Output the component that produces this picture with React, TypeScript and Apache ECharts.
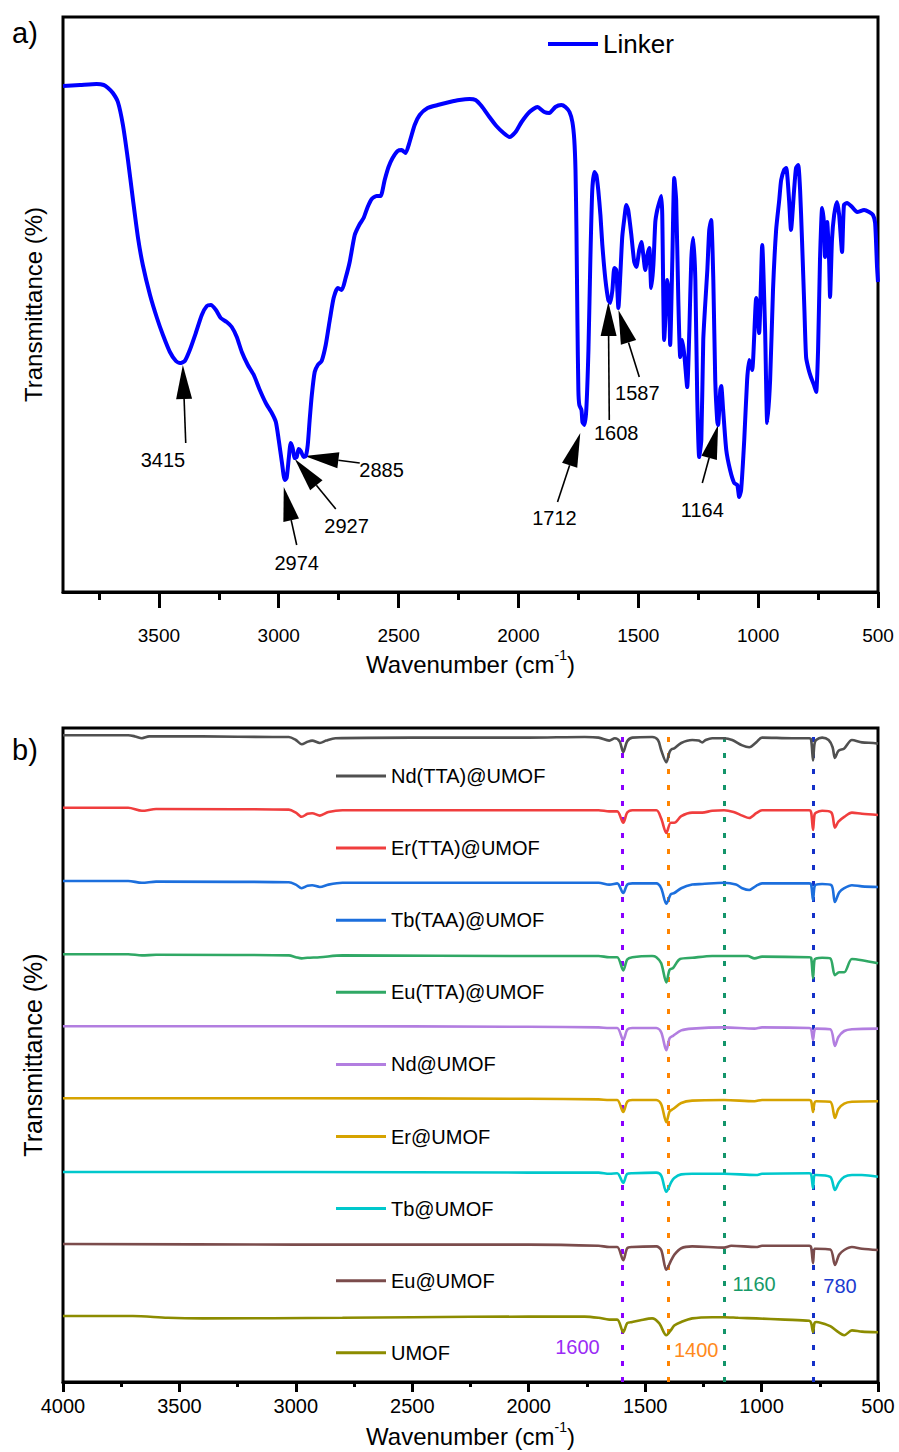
import React, { useEffect, useRef } from "react";
import * as echarts from "echarts";

const FONT = '"Liberation Sans", Arial, Helvetica, sans-serif';

// ---------- Panel a: Linker spectrum [wavenumber, transmittance (a.u.)]
const linkerSpectrum: [number, number][] = [
  [3900,101.2],[3829,101.4],[3760,101.6],[3730,101.4],[3712,100.8],[3692,99.8],[3671,98.0],[3650,93.4],[3629,86.4],[3608,78.4],[3587,70.8],[3567,65.4],[3537,59.4],[3508,54.8],[3483,51.4],[3454,48.0],[3429,46.2],[3412,45.8],[3392,46.2],[3371,48.4],[3346,51.8],[3321,55.4],[3300,57.2],[3283,57.4],[3262,56.4],[3242,54.8],[3217,54.0],[3196,53.0],[3175,51.0],[3154,48.0],[3129,45.4],[3104,43.4],[3079,40.4],[3054,37.8],[3029,35.8],[3012,34.0],[3000,30.4],[2987,26.0],[2975,22.4],[2967,22.8],[2958,26.8],[2950,29.8],[2942,28.8],[2933,26.8],[2925,27.0],[2917,28.6],[2908,28.2],[2896,27.0],[2887,27.2],[2879,29.4],[2871,34.4],[2862,39.4],[2850,44.0],[2837,45.4],[2821,46.2],[2804,49.4],[2787,54.4],[2771,58.8],[2754,60.8],[2737,60.4],[2721,62.8],[2704,66.0],[2683,71.4],[2662,73.6],[2646,74.8],[2629,77.0],[2612,78.6],[2592,79.2],[2575,79.2],[2558,82.4],[2542,85.0],[2525,86.8],[2504,88.2],[2487,88.4],[2471,87.8],[2454,90.0],[2433,93.4],[2412,95.4],[2379,96.8],[2337,97.4],[2287,98.0],[2246,98.4],[2204,98.6],[2179,98.4],[2154,97.2],[2121,95.0],[2092,93.2],[2062,91.8],[2037,91.0],[2012,92.0],[1987,94.0],[1954,96.0],[1921,97.0],[1892,96.0],[1871,95.8],[1846,97.0],[1821,97.4],[1804,97.0],[1787,96.0],[1775,94.0],[1767,90.4],[1762,84.4],[1758,72.4],[1754,54.4],[1750,40.4],[1746,37.4],[1737,36.4],[1733,34.0],[1725,33.4],[1717,36.4],[1708,48.4],[1700,66.4],[1692,80.4],[1683,84.0],[1675,83.4],[1667,80.4],[1658,75.4],[1650,69.4],[1637,62.4],[1625,58.4],[1617,57.8],[1608,60.4],[1600,64.8],[1592,64.4],[1583,56.8],[1575,63.4],[1567,71.0],[1558,74.8],[1550,77.4],[1542,76.4],[1529,71.4],[1517,66.0],[1508,65.0],[1496,68.4],[1487,70.0],[1479,67.4],[1471,64.4],[1462,67.4],[1454,68.8],[1446,60.8],[1437,65.4],[1429,74.0],[1421,76.4],[1412,78.0],[1404,79.2],[1400,75.4],[1392,50.4],[1383,58.4],[1379,62.4],[1371,58.4],[1367,49.4],[1358,66.4],[1350,82.8],[1342,78.4],[1333,58.4],[1325,47.0],[1317,50.4],[1308,47.4],[1296,41.0],[1287,52.4],[1279,66.4],[1271,70.8],[1262,62.4],[1254,38.4],[1246,27.0],[1237,30.4],[1229,50.4],[1221,57.4],[1212,64.4],[1204,72.4],[1196,74.4],[1187,62.4],[1179,42.4],[1171,34.4],[1167,33.4],[1158,40.4],[1154,41.2],[1146,36.4],[1133,28.4],[1117,24.4],[1100,21.8],[1087,21.4],[1079,19.0],[1071,20.4],[1058,30.4],[1046,42.4],[1037,46.4],[1025,44.4],[1008,58.8],[996,51.8],[983,69.4],[971,52.4],[962,33.8],[950,42.4],[938,60.4],[925,72.4],[912,78.4],[904,82.4],[892,84.4],[883,84.8],[871,78.4],[863,72.4],[850,80.4],[842,84.8],[833,85.4],[825,80.4],[817,70.4],[807,56.4],[800,47.0],[790,44.6],[780,43.0],[767,41.4],[758,40.0],[750,48.4],[742,66.4],[733,76.8],[725,73.4],[721,67.0],[712,74.0],[704,66.4],[700,59.0],[692,70.4],[683,75.4],[671,78.0],[662,75.4],[650,68.0],[642,77.4],[629,77.8],[608,77.0],[587,76.0],[558,76.4],[537,76.0],[521,75.4],[512,73.8],[504,65.0],[500,62.0]
];

const peakLabels = ["3415", "2974", "2927", "2885", "1712", "1608", "1587", "1164"];
const peakArrowTips: [number, number][] = [[3400,45.4],[2979,21.0],[2933,26.6],[2892,27.2],[1742,31.8],[1625,58.0],[1583,56.4],[1167,33.4]];
const peakArrowTails: [number, number][] = [[3388,29.8],[2925,9.4],[2762,16.6],[2662,25.8],[1837,18.0],[1621,34.4],[1496,43.0],[1233,21.8]];
const peakLabelPos: [number, number][] = [[3483,26.4],[2925,5.8],[2717,13.2],[2571,24.4],[1850,14.8],[1592,31.8],[1504,39.8],[1233,16.4]];

const topMajorTicks = [3500, 3000, 2500, 2000, 1500, 1000, 500];
const topMinorTicks = [3750, 3250, 2750, 2250, 1750, 1250, 750];
const bottomMajorTicks = [4000, 3500, 3000, 2500, 2000, 1500, 1000, 500];
const bottomMinorTicks = [3750, 3250, 2750, 2250, 1750, 1250, 750];

// ---------- Panel b: stacked spectra (relative to offset)
const sampleNames = ["Nd(TTA)@UMOF","Er(TTA)@UMOF","Tb(TAA)@UMOF","Eu(TTA)@UMOF","Nd@UMOF","Er@UMOF","Tb@UMOF","Eu@UMOF","UMOF"];
const sampleColors = ["#505050","#F03E3E","#1C6FDD","#30A865","#B27EE0","#D6A300","#00C8CC","#7B4C4C","#8C8C00"];
const sampleOffsets = [107.8, 95.7, 83.5, 71.3, 59.3, 47.3, 35.0, 23.0, 11.0];

const ndTTA: [number, number][] = [[4000,0],[3800,0],[3720,0],[3690,-0.2],[3661,-0.5],[3630,-0.2],[3400,-0.2],[3100,-0.3],[3030,-0.3],[3000,-0.8],[2975,-1.5],[2950,-1.1],[2930,-0.9],[2897,-1.3],[2870,-0.9],[2830,-0.5],[2500,-0.4],[2000,-0.4],[1760,-0.3],[1700,-0.4],[1654,-0.9],[1630,-0.5],[1610,-1.0],[1594,-2.8],[1577,-1.0],[1555,-0.4],[1470,-0.3],[1445,-0.8],[1431,-2.5],[1409,-4.5],[1395,-2.8],[1385,-2.3],[1375,-2.2],[1345,-1.3],[1298,-0.8],[1270,-0.9],[1255,-1.2],[1240,-0.8],[1212,-0.5],[1161,-0.5],[1126,-0.8],[1083,-1.7],[1053,-2.0],[1023,-1.2],[998,-0.4],[869,-0.5],[795,-0.5],[787,-0.8],[779,-4.2],[773,-1.5],[766,-0.8],[740,-0.4],[712,-0.8],[695,-2.0],[685,-3.8],[670,-2.6],[645,-2.2],[612,-0.8],[569,-1.2],[520,-1.3],[500,-1.4]];
const erTTA: [number, number][] = [[4000,0],[3720,0],[3661,-0.5],[3600,-0.2],[3030,-0.3],[3000,-0.8],[2975,-1.5],[2950,-1.0],[2930,-0.9],[2897,-1.3],[2860,-0.7],[2800,-0.4],[2000,-0.4],[1700,-0.4],[1654,-0.6],[1620,-0.6],[1594,-2.5],[1577,-0.8],[1555,-0.4],[1452,-0.4],[1431,-1.8],[1409,-4.2],[1390,-2.5],[1375,-2.5],[1345,-1.4],[1298,-0.8],[1255,-0.8],[1212,-0.5],[1161,-0.4],[1120,-0.7],[1083,-1.3],[1053,-1.7],[1023,-0.9],[998,-0.4],[795,-0.4],[787,-0.8],[779,-3.7],[773,-1.2],[766,-0.8],[740,-0.5],[700,-0.8],[685,-3.3],[670,-2.3],[645,-1.5],[612,-0.8],[569,-1.0],[500,-1.2]];
const tbTAA: [number, number][] = [[4000,0],[3720,0],[3661,-0.3],[3600,-0.1],[3030,-0.2],[3000,-0.6],[2975,-1.2],[2950,-0.8],[2930,-0.7],[2897,-1.0],[2860,-0.6],[2800,-0.3],[2000,-0.3],[1700,-0.3],[1654,-0.6],[1620,-0.4],[1594,-2.0],[1577,-0.6],[1555,-0.4],[1452,-0.4],[1431,-1.2],[1409,-3.8],[1390,-2.2],[1375,-2.0],[1345,-1.2],[1298,-0.6],[1255,-0.5],[1161,-0.3],[1110,-0.6],[1083,-1.2],[1053,-1.5],[1023,-0.8],[998,-0.4],[795,-0.4],[787,-0.6],[779,-3.2],[773,-1.0],[766,-0.6],[740,-0.5],[700,-0.7],[685,-3.5],[667,-1.9],[645,-1.2],[612,-0.7],[569,-0.9],[500,-1.0]];
const euTTA: [number, number][] = [[4000,0],[3720,0],[3661,-0.2],[3600,-0.1],[3030,-0.2],[3000,-0.5],[2975,-0.7],[2950,-0.6],[2897,-0.5],[2800,-0.2],[2000,-0.3],[1700,-0.3],[1654,-0.5],[1620,-0.5],[1594,-2.7],[1577,-0.9],[1555,-0.5],[1470,-0.3],[1452,-0.5],[1431,-1.5],[1409,-4.7],[1395,-2.6],[1380,-2.3],[1350,-0.8],[1298,-0.6],[1212,-0.3],[1161,-0.3],[1060,-0.3],[1030,-0.7],[998,-0.4],[795,-0.5],[787,-0.6],[779,-4.0],[773,-1.0],[766,-0.7],[740,-0.6],[705,-0.7],[685,-3.5],[667,-3.0],[645,-3.0],[612,-0.8],[569,-1.0],[500,-1.5]];
const ndUMOF: [number, number][] = [[4000,0],[3000,0],[2000,-0.1],[1700,-0.2],[1654,-0.3],[1620,-0.3],[1594,-2.3],[1577,-0.6],[1555,-0.3],[1452,-0.3],[1431,-1.0],[1409,-4.0],[1395,-2.0],[1380,-1.6],[1345,-0.7],[1298,-0.4],[1161,-0.2],[1030,-0.4],[998,-0.2],[795,-0.3],[787,-0.5],[779,-2.3],[773,-0.7],[766,-0.4],[705,-0.5],[685,-3.3],[670,-1.8],[645,-0.8],[612,-0.5],[500,-0.4]];
const erUMOF: [number, number][] = [[4000,0],[3000,0],[2000,-0.1],[1700,-0.2],[1654,-0.3],[1620,-0.3],[1594,-2.3],[1577,-0.6],[1555,-0.3],[1452,-0.3],[1431,-1.0],[1409,-4.0],[1395,-2.2],[1380,-1.8],[1345,-0.8],[1298,-0.4],[1161,-0.3],[1030,-0.5],[998,-0.3],[795,-0.3],[787,-0.5],[779,-2.3],[773,-0.8],[766,-0.5],[705,-0.6],[685,-3.3],[670,-1.8],[645,-0.9],[612,-0.6],[500,-0.5]];
const tbUMOF: [number, number][] = [[4000,0],[3000,0],[2000,-0.1],[1700,-0.1],[1654,-0.3],[1620,-0.2],[1594,-1.8],[1577,-0.3],[1555,-0.2],[1452,-0.1],[1431,-0.6],[1409,-3.3],[1388,-1.7],[1375,-1.0],[1345,-0.4],[1298,-0.3],[1161,-0.3],[1023,-0.5],[998,-0.3],[795,-0.2],[787,-0.4],[779,-2.7],[773,-0.5],[766,-0.5],[705,-0.8],[685,-3.0],[667,-1.7],[645,-0.8],[612,-0.5],[569,-0.5],[500,-0.8]];
const euUMOF: [number, number][] = [[4000,0],[3000,-0.1],[2000,-0.1],[1700,-0.3],[1654,-0.5],[1620,-0.5],[1594,-2.7],[1577,-0.7],[1555,-0.5],[1452,-0.4],[1431,-1.0],[1409,-4.3],[1388,-2.7],[1375,-1.8],[1345,-0.7],[1298,-0.4],[1161,-0.6],[1130,-0.3],[1023,-0.5],[998,-0.3],[795,-0.3],[787,-0.6],[779,-3.2],[773,-0.8],[766,-0.8],[705,-0.9],[685,-3.5],[667,-1.8],[645,-1.0],[612,-0.5],[569,-0.8],[500,-1.0]];
const umof: [number, number][] = [[4000,0],[3700,0],[3550,-0.3],[3400,-0.4],[2800,-0.3],[2500,-0.2],[2000,-0.1],[1760,-0.1],[1700,-0.3],[1654,-0.6],[1620,-0.6],[1594,-2.7],[1577,-1.2],[1555,-1.0],[1520,-0.7],[1470,-0.4],[1440,-1.2],[1409,-3.2],[1390,-2.4],[1375,-1.6],[1345,-1.0],[1298,-0.4],[1212,-0.2],[1161,-0.2],[1100,-0.3],[1023,-0.4],[900,-0.6],[795,-0.8],[787,-1.2],[779,-2.7],[773,-1.2],[766,-1.0],[740,-1.2],[705,-1.7],[670,-2.7],[645,-3.2],[612,-2.4],[569,-2.6],[500,-2.7]];
const sampleSpectra = [ndTTA, erTTA, tbTAA, euTTA, ndUMOF, erUMOF, tbUMOF, euUMOF, umof];

const markerWavenumbers = [1600, 1400, 1160, 780];
const markerLabels = ["1600", "1400", "1160", "780"];
const markerLineColors = ["#8A00FF", "#FF8400", "#13956A", "#1430C8"];
const markerTextColors = ["#9A2CF5", "#FF8A1C", "#179A68", "#1C3CD0"];
const markerLabelPos: [number, number][] = [[1791, 5.8], [1281, 5.3], [1032, 16.3], [663, 16.0]];

const wavenumberName = "{n|Wavenumber (cm}{sup|-1}{n|)}";
const nameRich = {
  n: { fontSize: 24, fontFamily: FONT, color: "#000", lineHeight: 28, verticalAlign: "bottom" },
  sup: { fontSize: 14, fontFamily: FONT, color: "#000", lineHeight: 14, verticalAlign: "top" },
};

function tickAxis(gridIndex: number, max: number, values: number[], len: number, withLabels: boolean, extra: any = {}) {
  return {
    gridIndex,
    type: "value",
    inverse: true,
    min: 500,
    max,
    position: "bottom",
    axisLine: withLabels ? { show: true, onZero: false, lineStyle: { color: "#000", width: 3 } } : { show: false, onZero: false },
    axisTick: { show: true, length: len, customValues: values, lineStyle: { color: "#000", width: 3 } },
    axisLabel: withLabels
      ? { show: true, customValues: values, formatter: (v: number) => String(v), color: "#000", fontFamily: FONT, fontSize: 20, ...(extra.label || {}) }
      : { show: false },
    splitLine: { show: false },
    ...(extra.axis || {}),
  };
}

export default function App() {
  const ref = useRef<HTMLDivElement>(null);

  useEffect(() => {
    document.body.style.margin = "0";
    if (!ref.current) return;
    const chart = echarts.init(ref.current, null, { renderer: "svg" });

    const option: any = {
      animation: false,
      backgroundColor: "#fff",
      grid: [
        { left: 63, right: 21, top: 17, height: 575, show: true, borderColor: "#000", borderWidth: 3 },
        { left: 63, right: 21, top: 728, height: 654, show: true, borderColor: "#000", borderWidth: 3 },
      ],
      xAxis: [
        tickAxis(0, 3900, topMajorTicks, 16, true, {
          label: { margin: 34, fontSize: 19 },
          axis: { name: wavenumberName, nameLocation: "middle", nameGap: 56, nameTextStyle: { rich: nameRich } },
        }),
        tickAxis(0, 3900, topMinorTicks, 8, false),
        tickAxis(1, 4000, bottomMajorTicks, 10, true, {
          label: { margin: 14, fontSize: 20 },
          axis: { name: wavenumberName, nameLocation: "middle", nameGap: 38, nameTextStyle: { rich: nameRich } },
        }),
        tickAxis(1, 4000, bottomMinorTicks, 5, false),
      ],
      yAxis: [
        {
          gridIndex: 0, type: "value", min: 0, max: 115,
          axisLine: { show: false }, axisTick: { show: false }, axisLabel: { show: false }, splitLine: { show: false },
          name: "Transmittance (%)", nameLocation: "middle", nameGap: 18, nameRotate: 90,
          nameTextStyle: { fontSize: 24, fontFamily: FONT, color: "#000" },
        },
        {
          gridIndex: 1, type: "value", min: 0, max: 109,
          axisLine: { show: false }, axisTick: { show: false }, axisLabel: { show: false }, splitLine: { show: false },
          name: "Transmittance (%)", nameLocation: "middle", nameGap: 18, nameRotate: 90,
          nameTextStyle: { fontSize: 25, fontFamily: FONT, color: "#000" },
        },
      ],
      legend: [
        {
          data: ["Linker"], left: 548, top: 31, padding: 0, icon: "rect", itemWidth: 50, itemHeight: 4,
          selectedMode: false, textStyle: { fontSize: 26, lineHeight: 26, fontFamily: FONT, color: "#000" },
        },
        {
          data: sampleNames, orient: "vertical", left: 336, top: 766, padding: 0, icon: "rect",
          itemWidth: 50, itemHeight: 3, itemGap: 52.1, selectedMode: false,
          textStyle: { fontSize: 20, lineHeight: 20, fontFamily: FONT, color: "#000" },
        },
      ],
      series: [
        {
          name: "Linker", type: "line", xAxisIndex: 0, yAxisIndex: 0, data: linkerSpectrum,
          symbol: "none", smooth: 0.2, lineStyle: { color: "#0000FF", width: 4 }, itemStyle: { color: "#0000FF" },
        },
        ...sampleNames.map((name, i) => ({
          name, type: "line", xAxisIndex: 2, yAxisIndex: 1,
          data: sampleSpectra[i].map(([w, v]) => [w, sampleOffsets[i] + v]),
          symbol: "none", smooth: 0.3,
          lineStyle: { color: sampleColors[i], width: 2.6 }, itemStyle: { color: sampleColors[i] },
          z: 3,
          ...(i === sampleNames.length - 1
            ? {
                markLine: {
                  silent: true, symbol: ["none", "none"], label: { show: false }, z: 2,
                  data: markerWavenumbers.map((w, k) => ({
                    xAxis: w,
                    lineStyle: { color: markerLineColors[k], width: 3, type: [5, 11], cap: "butt" },
                  })),
                },
              }
            : {}),
        })),
      ],
    };
    chart.setOption(option);

    const top = (p: [number, number]) => chart.convertToPixel({ xAxisIndex: 0, yAxisIndex: 0 }, p) as number[];
    const bot = (p: [number, number]) => chart.convertToPixel({ xAxisIndex: 2, yAxisIndex: 1 }, p) as number[];

    const graphics: any[] = [
      { type: "text", x: 12, y: 33, style: { text: "a)", fontSize: 29, fontFamily: FONT, fill: "#000", verticalAlign: "middle" } },
      { type: "text", x: 12, y: 750, style: { text: "b)", fontSize: 29, fontFamily: FONT, fill: "#000", verticalAlign: "middle" } },
    ];

    peakLabels.forEach((lab, i) => {
      const tip = top(peakArrowTips[i]);
      const tail = top(peakArrowTails[i]);
      const dx = tip[0] - tail[0], dy = tip[1] - tail[1];
      const len = Math.hypot(dx, dy) || 1;
      const ux = dx / len, uy = dy / len;
      const headLen = 34, half = 8;
      const bx = tip[0] - ux * headLen, by = tip[1] - uy * headLen;
      const nx = -uy, ny = ux;
      graphics.push({
        type: "line", shape: { x1: tail[0], y1: tail[1], x2: bx, y2: by },
        style: { stroke: "#000", lineWidth: 1.6 },
      });
      graphics.push({
        type: "polygon",
        shape: { points: [[tip[0], tip[1]], [bx + nx * half, by + ny * half], [bx - nx * half, by - ny * half]] },
        style: { fill: "#000" },
      });
      const lp = top(peakLabelPos[i]);
      graphics.push({
        type: "text", x: lp[0], y: lp[1],
        style: { text: lab, fontSize: 20, fontFamily: FONT, fill: "#000", align: "center", verticalAlign: "middle" },
      });
    });

    markerLabels.forEach((lab, k) => {
      const p = bot(markerLabelPos[k]);
      graphics.push({
        type: "text", x: p[0], y: p[1],
        style: { text: lab, fontSize: 20, fontFamily: FONT, fill: markerTextColors[k], align: "center", verticalAlign: "middle" },
      });
    });

    chart.setOption({ graphic: graphics });

    return () => chart.dispose();
  }, []);

  return <div ref={ref} style={{ width: 899, height: 1452 }} />;
}
